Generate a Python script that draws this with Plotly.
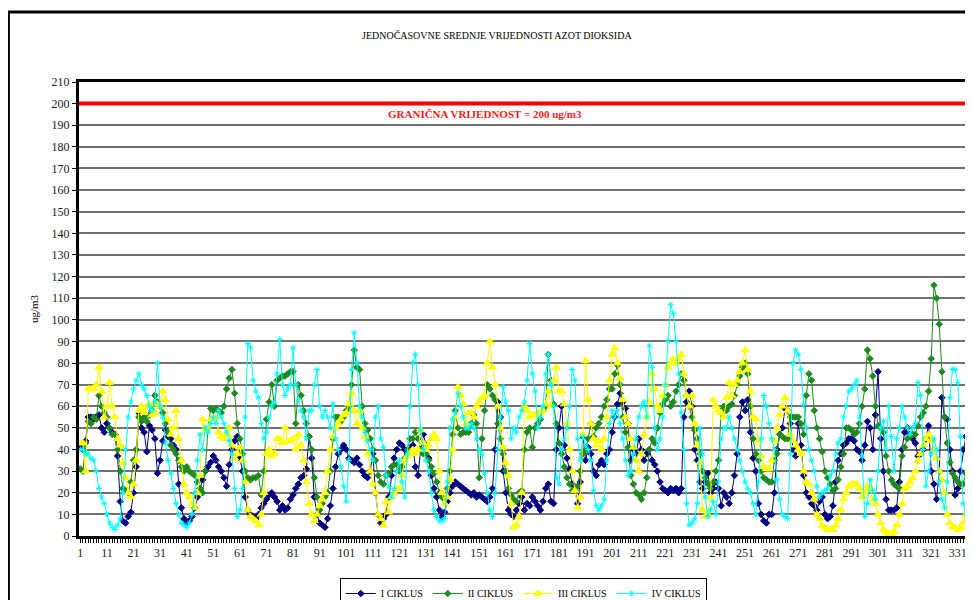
import plotly.graph_objects as go

# Jednočasovne srednje vrijednosti NO2 (ug/m3), 4 ciklusa mjerenja, ocitano sa grafika
ciklus_1 = [
    41, 40, 44, 55, 55, 54, 55, 56, 50, 48,
    52, 50, 48, 47, 37, 16, 7, 6, 9, 11,
    20, 32, 57, 50, 48, 39, 51, 49, 45, 29,
    35, 44, 49, 46, 45, 42, 40, 24, 13, 8,
    6, 7, 9, 13, 18, 22, 26, 30, 32, 34,
    37, 35, 32, 30, 27, 23, 33, 40, 44, 46,
    36, 30, 18, 12, 10, 9, 8, 10, 13, 15,
    17, 19, 20, 18, 16, 12, 14, 12, 13, 17,
    19, 22, 24, 27, 28, 31, 46, 36, 18, 10,
    6, 5, 4, 8, 14, 22, 32, 38, 40, 42,
    40, 36, 35, 34, 36, 33, 30, 28, 27, 30,
    38, 20, 10, 6, 8, 10, 18, 28, 36, 40,
    43, 42, 40, 38, 40, 42, 32, 28, 40, 47,
    42, 36, 28, 22, 18, 12, 9, 11, 16, 20,
    23, 25, 24, 23, 22, 21, 20, 19, 20, 18,
    19, 18, 17, 16, 18, 22, 40, 62, 55, 30,
    20, 12, 10, 9, 12, 15, 18, 12, 15, 14,
    18, 16, 14, 12, 16, 22, 24, 16, 15, 40,
    50, 60, 42, 36, 31, 24, 21, 15, 25, 46,
    35, 41, 38, 30, 28, 33, 35, 33, 38, 40,
    48, 55, 61, 66, 62, 59, 52, 35, 40, 38,
    45, 40, 35, 38, 40, 35, 33, 30, 25, 22,
    21, 20, 22, 21, 22, 20, 22, 55, 62, 67,
    60, 40, 35, 25, 22, 25, 29, 20, 22, 25,
    22, 14, 20, 18, 15, 20, 28, 38, 55, 62,
    58, 63, 48, 36, 30, 15, 10, 7, 6, 10,
    10, 20, 40, 47, 50, 59, 58, 52, 40, 37,
    52, 42, 28, 20, 18, 15, 14, 12, 16, 18,
    10, 8, 9, 14, 25, 35, 38, 42, 43, 45,
    45, 44, 40, 39, 35, 42, 53, 50, 40, 56,
    76, 45, 30, 17, 12, 12, 12, 13, 25, 40,
    48, 50, 47, 45, 43, 37, 38, 40, 45, 51,
    30, 24, 17, 30, 64, 55, 54, 40, 30, 19,
    22, 30, 40, 46, 57, 50,
]

ciklus_2 = [
    31, 30, 43, 53, 52, 55, 54, 65, 60, 57,
    55, 50, 47, 47, 40, 30, 22, 21, 20, 25,
    35, 40, 55, 53, 55, 53, 56, 58, 65, 62,
    60, 57, 52, 48, 42, 40, 38, 35, 32, 30,
    32, 30, 29, 28, 25, 22, 20, 30, 50, 59,
    58, 59, 58, 57, 60, 68, 73, 77, 66, 52,
    45, 38, 30, 27, 26, 27, 27, 28, 19, 30,
    54, 62, 70, 60, 72, 73, 74, 74, 75, 76,
    76, 52, 70, 65, 58, 52, 46, 40, 27, 18,
    12, 15, 18, 20, 30, 45, 55, 55, 53, 55,
    58, 60, 70, 86, 78, 77, 60, 52, 49, 45,
    40, 35, 28, 25, 24, 28, 29, 32, 33, 33,
    30, 32, 36, 40, 45, 45, 48, 45, 40, 38,
    38, 35, 32, 29, 25, 20, 18, 17, 22, 30,
    47, 58, 50, 47, 48, 48, 48, 52, 56, 52,
    27, 45, 58, 70, 68, 65, 63, 52, 45, 38,
    30, 22, 19, 17, 16, 20, 21, 40, 48, 50,
    41, 50, 52, 54, 58, 60, 84, 72, 61, 52,
    43, 38, 32, 27, 24, 21, 22, 23, 30, 38,
    40, 45, 52, 46, 50, 52, 55, 60, 63, 68,
    68, 75, 79, 70, 55, 48, 41, 28, 24, 20,
    19, 17, 20, 27, 40, 45, 43, 50, 57, 61,
    63, 65, 60, 62, 67, 70, 75, 72, 65, 60,
    55, 49, 45, 38, 30, 27, 24, 22, 25, 30,
    35, 58, 60, 58, 60, 61, 65, 70, 74, 78,
    80, 75, 60, 45, 38, 35, 30, 27, 26, 25,
    25, 35, 38, 47, 46, 45, 45, 55, 55, 55,
    55, 52, 47, 65, 75, 72, 58, 50, 45, 39,
    30, 27, 24, 21, 22, 26, 32, 38, 50, 50,
    49, 47, 48, 52, 60, 68, 86, 82, 74, 60,
    51, 50, 48, 37, 30, 26, 24, 23, 22, 37,
    41, 45, 46, 47, 47, 51, 55, 57, 60, 67,
    82, 116, 110, 98, 76, 55, 43, 34, 29, 27,
    25, 24, 24, 29, 37, 45,
]

ciklus_3 = [
    43, 43, 30, 68, 68, 68, 70, 78, 67, 55,
    60, 71, 60, 55, 45, 42, 34, 27, 20, 18,
    24, 35, 58, 60, 57, 60, 61, 56, 57, 61,
    60, 67, 63, 54, 47, 50, 58, 45, 35, 24,
    20, 18, 15, 13, 20, 28, 54, 49, 50, 54,
    54, 55, 48, 46, 45, 47, 50, 42, 36, 38,
    41, 35, 25, 12, 9, 8, 7, 5, 10, 20,
    38, 40, 37, 38, 45, 45, 43, 50, 44, 44,
    45, 40, 47, 42, 35, 25, 15, 10, 7, 10,
    14, 17, 20, 30, 40, 46, 50, 52, 54, 56,
    57, 61, 66, 58, 52, 58, 50, 46, 38, 30,
    24, 20, 10, 8, 5, 16, 11, 18, 20, 22,
    22, 28, 35, 37, 38, 40, 38, 40, 49, 43,
    40, 42, 45, 47, 45, 30, 20, 15, 18, 26,
    40, 55, 69, 65, 61, 52, 57, 57, 55, 60,
    62, 64, 65, 80, 90, 78, 70, 60, 50, 41,
    34, 28, 15, 4, 5, 9, 20, 60, 58, 55,
    56, 56, 57, 57, 58, 61, 67, 60, 72, 78,
    67, 67, 61, 52, 40, 30, 21, 13, 18, 47,
    81, 63, 52, 45, 42, 44, 40, 45, 55, 72,
    84, 87, 80, 73, 63, 55, 52, 45, 41, 35,
    30, 38, 47, 55, 62, 75, 68, 60, 58, 65,
    70, 78, 80, 82, 80, 82, 84, 75, 65, 60,
    65, 52, 42, 34, 12, 9, 10, 18, 63, 60,
    58, 57, 55, 64, 71, 65, 70, 72, 76, 80,
    86, 77, 67, 55, 54, 44, 37, 32, 31, 31,
    35, 44, 50, 56, 60, 64, 58, 47, 44, 42,
    40, 38, 30, 25, 24, 20, 17, 10, 8, 5,
    4, 3, 3, 3, 5, 8, 12, 17, 20, 23,
    24, 24, 24, 22, 18, 20, 23, 22, 17, 15,
    10, 6, 3, 2, 1, 1, 2, 5, 10, 15,
    22, 23, 25, 27, 30, 35, 38, 42, 45, 47,
    44, 40, 36, 30, 26, 20, 10, 6, 4, 4,
    3, 4, 6, 10, 15, 18,
]

ciklus_4 = [
    40, 40, 38, 38, 36, 35, 30, 22, 18, 15,
    10, 6, 4, 3, 5, 8, 20, 40, 55, 62,
    68, 72, 75, 70, 68, 65, 60, 58, 62, 80,
    60, 55, 43, 35, 29, 22, 15, 10, 6, 5,
    4, 6, 10, 20, 35, 47, 40, 50, 48, 52,
    55, 52, 58, 55, 52, 48, 44, 38, 22, 9,
    12, 22, 55, 89, 87, 72, 67, 64, 52, 45,
    48, 55, 60, 62, 75, 91, 70, 65, 68, 70,
    87, 70, 63, 58, 55, 45, 58, 58, 70, 77,
    60, 55, 58, 55, 50, 61, 45, 40, 32, 23,
    16, 35, 77, 94, 80, 60, 55, 48, 44, 40,
    35, 55, 60, 45, 41, 28, 23, 18, 22, 30,
    35, 25, 18, 38, 60, 80, 84, 70, 49, 40,
    35, 30, 20, 12, 9, 7, 7, 8, 25, 50,
    54, 57, 66, 60, 55, 50, 50, 52, 50, 45,
    40, 38, 29, 20, 12, 9, 20, 40, 55, 69,
    62, 58, 45, 50, 48, 55, 58, 62, 72, 89,
    75, 67, 50, 55, 60, 75, 84, 70, 60, 27,
    24, 40, 45, 50, 60, 77, 72, 45, 35, 46,
    42, 40, 35, 21, 14, 12, 14, 17, 35, 52,
    58, 55, 58, 52, 45, 35, 28, 30, 38, 45,
    55, 60, 62, 55, 88, 78, 50, 40, 45, 55,
    70, 90, 107, 103, 90, 75, 57, 40, 15, 5,
    6, 8, 15, 50, 38, 18, 9, 12, 16, 10,
    25, 45, 50, 50, 55, 50, 45, 40, 35, 30,
    25, 22, 20, 15, 10, 25, 45, 65, 60, 52,
    45, 40, 26, 17, 10, 9, 8, 38, 80, 86,
    84, 77, 61, 50, 40, 35, 30, 23, 18, 20,
    21, 22, 28, 30, 38, 43, 45, 55, 60, 67,
    68, 70, 72, 55, 37, 9, 15, 26, 21, 17,
    30, 50, 53, 40, 60, 46, 30, 45, 50, 60,
    55, 50, 47, 50, 52, 71, 65, 40, 23, 30,
    38, 45, 40, 25, 17, 13, 25, 64, 77, 77,
    71, 46, 15, 10, 8, 8,
]

granicna_vrijednost = 200
x_tickvals = list(range(1, 337, 10))

SERIF = "Liberation Serif, Times New Roman, serif"

# nazivi, boje i markeri serija
serije = [
    ("I CIKLUS", ciklus_1, "#000080", "diamond", 5),
    ("II CIKLUS", ciklus_2, "#1f8a1f", "diamond", 5),
    ("III CIKLUS", ciklus_3, "#ffff00", "triangle-up", 7),
    ("IV CIKLUS", ciklus_4, "#00ffff", "asterisk-open", 5),
]

fig = go.Figure()

for naziv, vrijednosti, boja, simbol, vel in serije:
    x = list(range(1, len(vrijednosti) + 1))
    fig.add_trace(go.Scatter(
        x=x, y=vrijednosti, name=naziv, mode="lines+markers",
        line=dict(color=boja, width=1),
        marker=dict(symbol=simbol, size=vel, color=boja, line=dict(color=boja, width=1)),
    ))

# granicna vrijednost
fig.add_hline(y=granicna_vrijednost, line=dict(color="#ff0000", width=4))

fig.add_annotation(
    x=0.454, y=195.3, xref="paper", yref="y",
    text="<b>GRANIČNA VRIJEDNOST = 200 ug/m3</b>", showarrow=False,
    font=dict(family=SERIF, size=11, color="#ff1a1a"),
)

# naslov
fig.add_annotation(
    x=0.468, y=1.119, xref="paper", yref="paper",
    text="JEDNOČASOVNE SREDNJE VRIJEDNOSTI AZOT DIOKSIDA", showarrow=False,
    font=dict(family=SERIF, size=10, color="#000000"),
)

# okvir grafikona
fig.add_shape(
    type="rect", xref="paper", yref="paper",
    x0=-0.079, y0=-0.18, x1=1.05, y1=1.154,
    line=dict(color="#000000", width=3), layer="below",
)

# stranica ima marginu od 8px, pa je figura manja za toliko
fig.update_layout(
    width=965, height=592,
    margin=dict(l=71, r=0, t=74, b=64, autoexpand=False),
    plot_bgcolor="white", paper_bgcolor="white",
    font=dict(family=SERIF, size=11, color="#000000"),
    showlegend=True,
    legend=dict(
        orientation="h", x=0.497, xanchor="center", y=-0.0925, yanchor="top",
        bordercolor="#000000", borderwidth=1, bgcolor="white",
        font=dict(family=SERIF, size=10), itemwidth=30, tracegroupgap=0,
    ),
)

fig.update_xaxes(
    range=[0.5, 336.7], tickmode="array", tickvals=x_tickvals,
    ticks="outside", ticklen=4, tickcolor="#000000",
    minor=dict(dtick=1, tick0=1, ticks="outside", ticklen=4, tickcolor="#000000"),
    showgrid=False, zeroline=False,
    showline=True, linecolor="#000000", linewidth=3, mirror=True,
    tickfont=dict(family=SERIF, size=12, color="#222222"),
)

fig.update_yaxes(
    range=[0, 210], dtick=10, tick0=0,
    ticks="outside", ticklen=4, tickcolor="#000000",
    showgrid=True, gridcolor="#707070", gridwidth=1.8,
    zeroline=False, showline=True, linecolor="#000000", linewidth=3,
    title=dict(text="ug/m3", font=dict(family=SERIF, size=11), standoff=11),
    tickfont=dict(family=SERIF, size=12, color="#222222"),
)

fig.write_html("out.html")
